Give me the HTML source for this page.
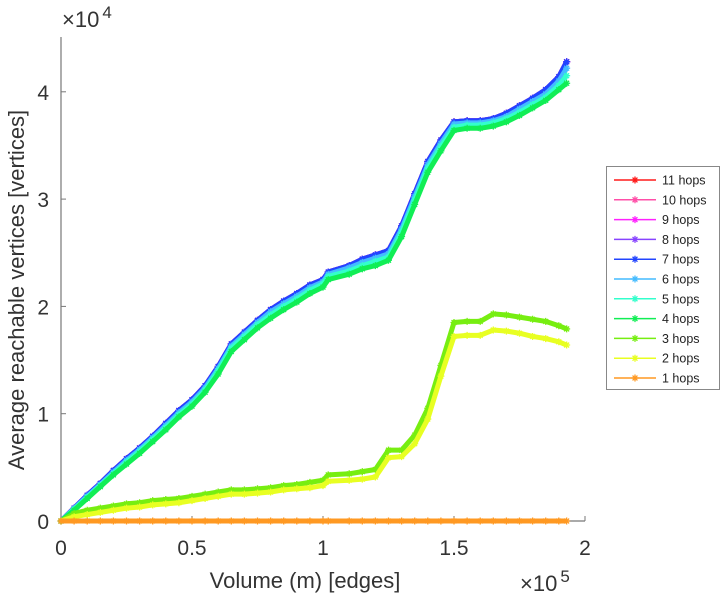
<!DOCTYPE html>
<html><head><meta charset="utf-8"><style>
body{margin:0;background:#fff;width:727px;height:600px;overflow:hidden}
svg{font-family:"Liberation Sans",sans-serif}
</style></head><body>
<svg id="chart" width="727" height="600"></svg>
<script>
const xs=[0,5,10,15,20,25,30,35,40,45,50,55,60,65,70,75,80,85,90,95,100,102,110,115,120,125,130,135,140,145,150,155,160,165,170,175,180,185,190,193];
const h11=[0,1.2,2.4,3.5,4.7,5.8,6.8,7.9,9.1,10.3,11.3,12.6,14.4,16.5,17.6,18.7,19.7,20.5,21.2,22,22.5,23.2,23.8,24.4,24.8,25.2,27.5,30.5,33.5,35.5,37.2,37.3,37.3,37.5,38,38.7,39.4,40.2,41.4,42.8];
const h10=[0,1.2,2.4,3.5,4.7,5.8,6.8,7.9,9.1,10.3,11.3,12.6,14.4,16.5,17.6,18.7,19.7,20.5,21.2,22,22.5,23.2,23.8,24.4,24.8,25.2,27.5,30.5,33.5,35.5,37.2,37.3,37.3,37.5,38,38.7,39.4,40.2,41.4,42.8];
const h9=[0,1.2,2.4,3.5,4.7,5.8,6.8,7.9,9.1,10.3,11.3,12.6,14.4,16.5,17.6,18.7,19.7,20.5,21.2,22,22.5,23.2,23.8,24.4,24.8,25.2,27.5,30.5,33.5,35.5,37.2,37.3,37.3,37.5,38,38.7,39.4,40.2,41.4,42.8];
const h8=[0,1.2,2.4,3.5,4.7,5.8,6.8,7.9,9.1,10.3,11.3,12.6,14.4,16.5,17.6,18.7,19.7,20.5,21.2,22,22.5,23.2,23.8,24.4,24.8,25.2,27.5,30.5,33.5,35.5,37.2,37.3,37.3,37.5,38,38.7,39.4,40.2,41.4,42.8];
const h7=[0,1.2,2.4,3.5,4.7,5.8,6.8,7.9,9.1,10.3,11.3,12.6,14.4,16.5,17.6,18.7,19.7,20.5,21.2,22,22.5,23.2,23.8,24.4,24.8,25.2,27.5,30.5,33.5,35.5,37.2,37.3,37.3,37.5,38,38.7,39.4,40.2,41.4,42.8];
const h6=[0,1.15,2.3,3.4,4.55,5.65,6.65,7.75,8.9,10.1,11.1,12.4,14.2,16.3,17.4,18.5,19.5,20.25,20.95,21.75,22.3,23,23.6,24.1,24.5,24.9,27.2,30.2,33.2,35.2,37,37.1,37.1,37.3,37.7,38.4,39.1,39.8,41,42.2];
const h5=[0,1.1,2.2,3.3,4.4,5.5,6.5,7.6,8.7,9.9,10.9,12.2,14,16.1,17.2,18.3,19.2,20,20.7,21.5,22.1,22.8,23.3,23.8,24.2,24.6,26.9,29.9,32.9,34.9,36.7,36.9,36.9,37.1,37.5,38.1,38.8,39.5,40.6,41.5];
const h4=[0,1.0,2.1,3.2,4.3,5.3,6.3,7.4,8.5,9.7,10.7,12,13.7,15.8,16.9,18,18.9,19.7,20.4,21.2,21.8,22.5,23,23.5,23.8,24.3,26.5,29.5,32.5,34.5,36.4,36.6,36.6,36.8,37.2,37.8,38.5,39.2,40.2,40.8];
const h3=[0,0.7,1,1.2,1.4,1.6,1.7,1.9,2,2.1,2.3,2.5,2.7,2.9,2.9,3,3.1,3.3,3.4,3.6,3.8,4.3,4.4,4.6,4.8,6.6,6.6,8.0,10.5,14.5,18.5,18.6,18.6,19.3,19.2,19,18.8,18.6,18.2,17.9];
const h2=[0,0.4,0.6,0.8,1,1.2,1.3,1.5,1.6,1.7,1.9,2.1,2.3,2.5,2.5,2.6,2.7,2.9,3,3.1,3.3,3.7,3.8,3.9,4.1,5.9,6,7.2,9.5,13.5,17.2,17.3,17.3,17.8,17.7,17.5,17.2,17,16.7,16.4];
const h1=[0,0,0,0,0,0,0,0,0,0,0,0,0,0,0,0,0,0,0,0,0,0,0,0,0,0,0,0,0,0,0,0,0,0,0,0,0,0,0,0];
const xTicks=[0,50,100,150,200];
const xTickLabels=["0","0.5","1","1.5","2"];
const yTicks=[0,10,20,30,40];
const yTickLabels=["0","1","2","3","4"];
const names=["11 hops","10 hops","9 hops","8 hops","7 hops","6 hops","5 hops","4 hops","3 hops","2 hops","1 hops"];
const series=[h11,h10,h9,h8,h7,h6,h5,h4,h3,h2,h1];
const colors=["#ff1a1a","#ff4fa8","#ff22ff","#8844ff","#2244ff","#44bbff","#33ffcc","#11ee55","#77ee11","#e8ff22","#ff9922"];

const NS="http://www.w3.org/2000/svg";
const svg=document.getElementById('chart');
const X0=61,X1=585,Y0=521,YPER=10.73;
const sx=v=>X0+(v/200)*(X1-X0);
const sy=v=>Y0-v*YPER;
function mk(t,a,p){const e=document.createElementNS(NS,t);for(const k in a)e.setAttribute(k,a[k]);(p||svg).appendChild(e);return e;}
function star(g,x,y,c){const r=3.5;
  mk('path',{d:`M${x-r} ${y}H${x+r}M${x} ${y-r}V${y+r}M${x-r*.7} ${y-r*.7}L${x+r*.7} ${y+r*.7}M${x-r*.7} ${y+r*.7}L${x+r*.7} ${y-r*.7}`,stroke:c,'stroke-width':1.3,fill:'none'},g);}

const ax=mk('g',{});


mk('line',{x1:X0,y1:37,x2:X0,y2:Y0,stroke:'#777','stroke-width':1.2},ax);
mk('line',{x1:X0,y1:Y0,x2:X1,y2:Y0,stroke:'#777','stroke-width':1.2},ax);
xTicks.forEach((t,i)=>{const x=sx(t);
  mk('line',{x1:x,y1:Y0,x2:x,y2:Y0-5,stroke:'#777'},ax);
  const tx=mk('text',{x:x,y:Y0+34,'font-size':21,'text-anchor':'middle',fill:'#333'},ax);tx.textContent=xTickLabels[i];
  
  });
yTicks.forEach((t,i)=>{const y=sy(t);
  mk('line',{x1:X0,y1:y,x2:X0+5,y2:y,stroke:'#777'},ax);
  const tx=mk('text',{x:X0-12,y:y+8,'font-size':21,'text-anchor':'end',fill:'#333'},ax);tx.textContent=yTickLabels[i];
  
  });

series.forEach((s,k)=>{
  const g=mk('g',{});
  
  
  mk('polyline',{points:s.map((v,i)=>sx(xs[i])+','+sy(v)).join(' '),fill:'none',stroke:colors[k],'stroke-width':5,'stroke-linejoin':'round'},g);
  s.forEach((v,i)=>star(g,sx(xs[i]),sy(v),colors[k]));
});
</script>
<svg width="727" height="600" style="position:absolute;left:0;top:0">
<text x="62" y="27" font-size="22" fill="#333" font-family="Liberation Sans,sans-serif">×10<tspan dx="3" dy="-9" font-size="17">4</tspan></text>
<text x="520" y="591" font-size="22" fill="#333" font-family="Liberation Sans,sans-serif">×10<tspan dx="3" dy="-9" font-size="17">5</tspan></text>
<text x="305" y="588" font-size="22" text-anchor="middle" fill="#333" font-family="Liberation Sans,sans-serif">Volume (m) [edges]</text>
<text transform="translate(24,290) rotate(-90)" font-size="22" text-anchor="middle" fill="#333" font-family="Liberation Sans,sans-serif">Average reachable vertices [vertices]</text>
<g id="legend">
<rect x="606.5" y="166.5" width="113" height="223" fill="#fff" stroke="#888" stroke-width="1"/>
</g>
</svg>
<script>
const lg=document.getElementById('legend');
names.forEach((n,k)=>{const y=180+k*19.8;
  const g=document.createElementNS(NS,'g');lg.appendChild(g);
  
  
  mk('line',{x1:614,y1:y,x2:656,y2:y,stroke:colors[k],'stroke-width':1.5},g);
  star(g,635,y,colors[k]);
  const t=mk('text',{x:662,y:y+4.5,'font-size':12.5,fill:'#222','font-family':'Liberation Sans,sans-serif'},g);t.textContent=n;
});
</script>
</body></html>
